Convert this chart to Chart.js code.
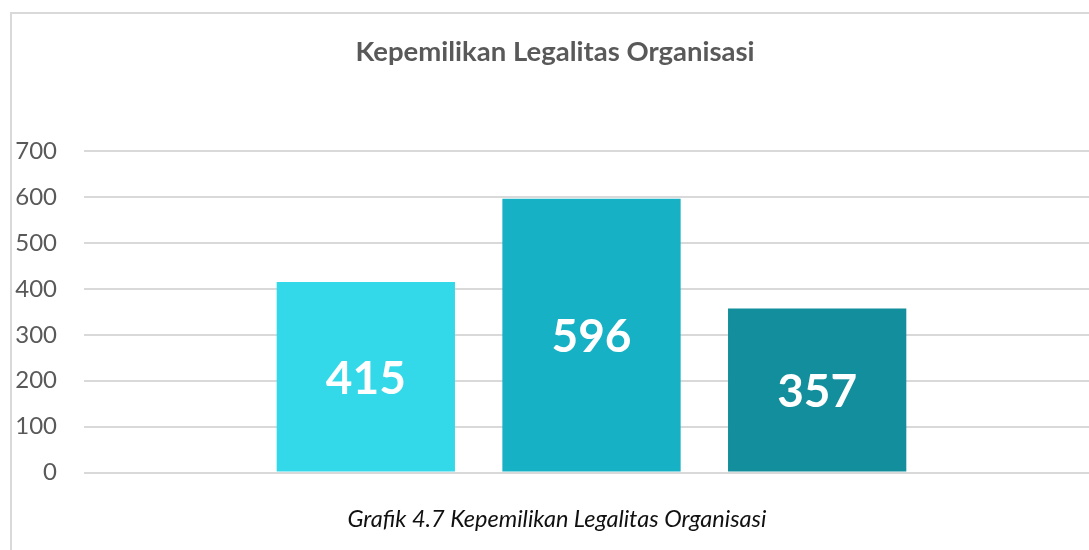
<!DOCTYPE html>
<html>
<head>
<meta charset="utf-8">
<script src="https://cdn.jsdelivr.net/npm/chart.js@4"></script>
<style>
  html, body { margin: 0; padding: 0; background: #fff; width: 1089px; height: 550px; overflow: hidden; }
  #frame { position: absolute; left: 10px; top: 12px; width: 1200px; height: 600px;
           border-top: 2px solid #d9d9d9; border-left: 2px solid #d9d9d9; }
  #chart-container { position: absolute; left: 11px; top: 13px; width: 1100px; height: 501px; }
  #caption { position: absolute; left: 0; width: 1114px; top: 504px; text-align: center;
             font-family: Lato, "Open Sans", sans-serif; font-style: italic; font-size: 23.5px; color: #111; }
</style>
</head>
<body>
<div id="frame"></div>
<div id="chart-container"><canvas id="barChart"></canvas></div>
<div id="caption">Grafik 4.7 Kepemilikan Legalitas Organisasi</div>
<script>
// Data
const categories = [''];
const seriesNames = ['Seri 1', 'Seri 2', 'Seri 3'];
const seriesValues = [415, 596, 357];
const seriesColors = ['#33d8e9', '#16b1c4', '#128e9c'];
const yTicks = [0, 100, 200, 300, 400, 500, 600, 700];

// Value labels in the middle of each bar
const barLabels = {
  id: 'barLabels',
  afterDatasetsDraw(chart) {
    const ctx = chart.ctx;
    ctx.save();
    ctx.fillStyle = '#ffffff';
    ctx.font = 'bold 46px Lato, "Open Sans", sans-serif';
    ctx.textAlign = 'center';
    ctx.textBaseline = 'middle';
    chart.data.datasets.forEach((ds, i) => {
      chart.getDatasetMeta(i).data.forEach((bar, j) => {
        ctx.fillText(String(ds.data[j]), bar.x, (bar.y + bar.base) / 2 + 2);
      });
    });
    ctx.restore();
  }
};

const ctx = document.getElementById('barChart').getContext('2d');

new Chart(ctx, {
  type: 'bar',
  data: {
    labels: categories,
    datasets: seriesNames.map((name, i) => ({
      label: name,
      data: [seriesValues[i]],
      backgroundColor: seriesColors[i],
      borderWidth: 0,
      categoryPercentage: 0.667,
      barPercentage: 0.79
    }))
  },
  options: {
    responsive: true,
    maintainAspectRatio: false,
    animation: false,
    layout: { padding: { top: 0, right: 12, bottom: 0, left: 0 } },
    scales: {
      x: { display: false },
      y: {
        min: 0,
        max: 700,
        afterBuildTicks(scale) { scale.ticks = yTicks.map(v => ({ value: v })); },
        afterFit(scale) { scale.width = 73; },
        border: { display: false },
        grid: { color: '#d9d9d9', lineWidth: 2, drawTicks: false },
        ticks: {
          padding: 27,
          color: '#595959',
          font: { family: 'Lato, "Open Sans", sans-serif', size: 24 }
        }
      }
    },
    plugins: {
      legend: { display: false },
      tooltip: { enabled: false },
      title: {
        display: true,
        text: 'Kepemilikan Legalitas Organisasi',
        color: '#595959',
        font: { family: 'Lato, "Open Sans", sans-serif', size: 27.5, weight: 'bold' },
        padding: { top: 23, bottom: 82 }
      }
    }
  },
  plugins: [barLabels]
});
</script>
</body>
</html>
